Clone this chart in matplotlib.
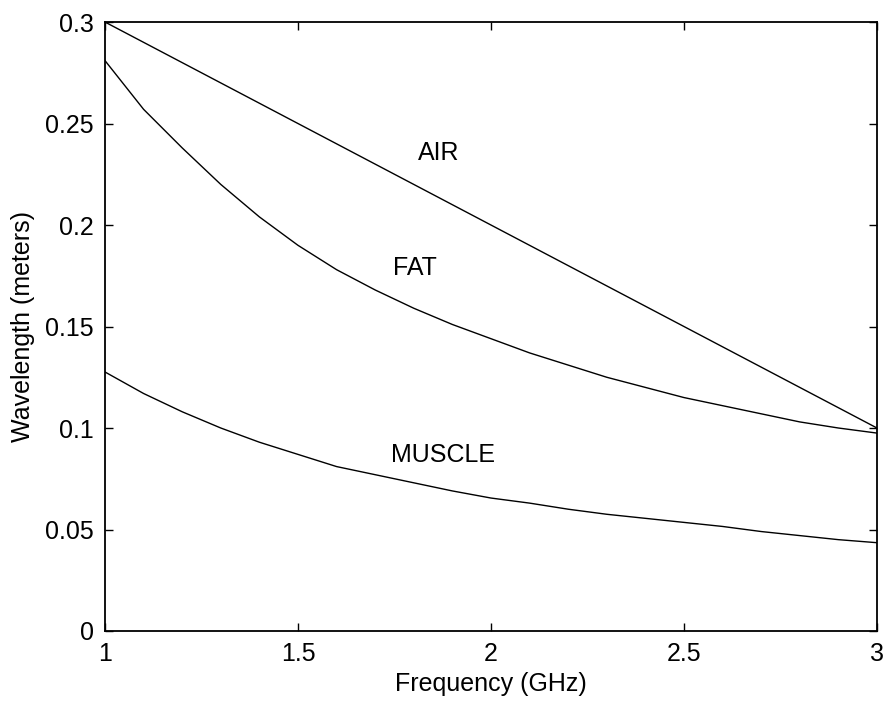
import matplotlib
matplotlib.use("Agg")
import matplotlib.pyplot as plt

plt.rcParams['font.family'] = ['Liberation Sans', 'DejaVu Sans']

# frequency grid (GHz)
freq = [1.0, 1.1, 1.2, 1.3, 1.4, 1.5, 1.6, 1.7, 1.8, 1.9, 2.0,
        2.1, 2.2, 2.3, 2.4, 2.5, 2.6, 2.7, 2.8, 2.9, 3.0]

# wavelengths (meters)
air = [0.300, 0.290, 0.280, 0.270, 0.260, 0.250, 0.240, 0.230, 0.220, 0.210, 0.200,
       0.190, 0.180, 0.170, 0.160, 0.150, 0.140, 0.130, 0.120, 0.110, 0.100]
fat = [0.281, 0.257, 0.238, 0.220, 0.204, 0.190, 0.178, 0.168, 0.159, 0.151, 0.144,
       0.137, 0.131, 0.125, 0.120, 0.115, 0.111, 0.107, 0.103, 0.100, 0.0975]
muscle = [0.1276, 0.117, 0.108, 0.100, 0.093, 0.087, 0.081, 0.077, 0.073, 0.069, 0.0655,
          0.063, 0.060, 0.0575, 0.0555, 0.0535, 0.0515, 0.049, 0.047, 0.045, 0.0435]

labels = ["AIR", "FAT", "MUSCLE"]
label_pos = [(1.81, 0.2355), (1.745, 0.179), (1.74, 0.0867)]

xticks = [1, 1.5, 2, 2.5, 3]
xticklabels = ["1", "1.5", "2", "2.5", "3"]
yticks = [0, 0.05, 0.1, 0.15, 0.2, 0.25, 0.3]
yticklabels = ["0", "0.05", "0.1", "0.15", "0.2", "0.25", "0.3"]

fig = plt.figure(figsize=(8.86, 7.04), dpi=100)
ax = fig.add_axes([0.1185, 0.1037, 0.8713, 0.865])

for series in (air, fat, muscle):
    ax.plot(freq, series, color='black', linewidth=1.0)

for text, (x, y) in zip(labels, label_pos):
    ax.text(x, y, text, fontsize=18, ha='left', va='center', color='black')

ax.set_xlim(1, 3)
ax.set_ylim(0, 0.3)
ax.set_xticks(xticks)
ax.set_xticklabels(xticklabels)
ax.set_yticks(yticks)
ax.set_yticklabels(yticklabels)
ax.tick_params(direction='in', length=6, width=1, top=True, right=True,
               labelsize=18, pad=8)
for sp in ax.spines.values():
    sp.set_linewidth(1.3)

ax.set_xlabel("Frequency (GHz)", fontsize=18, labelpad=4)
ax.set_ylabel("Wavelength (meters)", fontsize=18, labelpad=7)

fig.savefig("out.png", dpi=100)
